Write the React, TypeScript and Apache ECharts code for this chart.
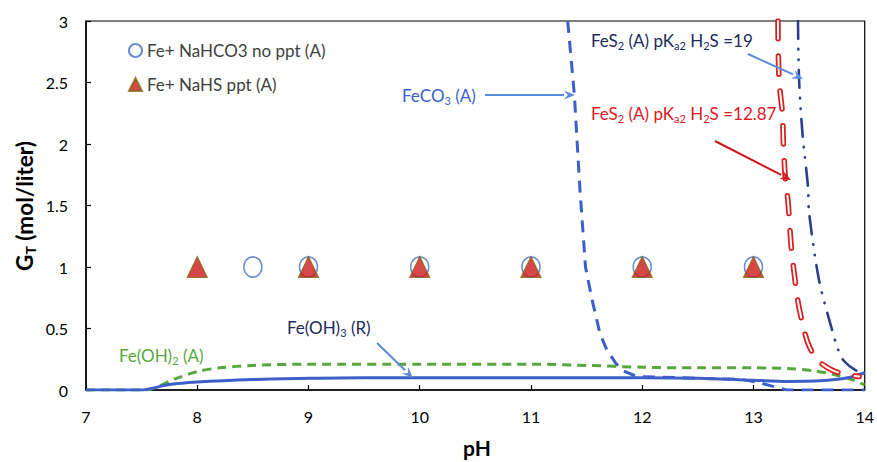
import React, { useEffect, useRef } from "react";
import * as echarts from "echarts";

const FONT = "Lato, 'Liberation Sans', sans-serif";

// Scatter experiment points
const circlePH = [8.5, 9, 10, 11, 12, 13];
const circleGT = [1, 1, 1, 1, 1, 1];
const trianglePH = [8, 9, 10, 11, 12, 13];
const triangleGT = [1, 1, 1, 1, 1, 1];

// Fe(OH)3 (R) solid
const feoh3PH = [7, 7.5, 7.6, 7.75, 8, 8.5, 9, 9.5, 10, 11, 12, 12.5, 13, 13.3, 13.6, 13.85, 14];
const feoh3GT = [0, 0, 0.015, 0.045, 0.065, 0.085, 0.095, 0.1, 0.1, 0.1, 0.1, 0.095, 0.08, 0.07, 0.075, 0.1, 0.14];

// Fe(OH)2 (A) green dashed
const feoh2PH = [7, 7.55, 7.65, 7.8, 8, 8.2, 8.5, 9, 10, 11, 11.5, 12, 12.5, 13, 13.3, 13.55, 13.75, 13.9, 14];
const feoh2GT = [0, 0, 0.03, 0.09, 0.15, 0.18, 0.2, 0.21, 0.21, 0.21, 0.2, 0.185, 0.18, 0.18, 0.175, 0.155, 0.12, 0.08, 0.04];

// FeCO3 (A) blue dashed
const feco3PH = [11.33, 11.36, 11.39, 11.44, 11.49, 11.55, 11.62, 11.68, 11.76, 11.82, 11.95, 12.5, 12.9, 13.05, 13.3, 14];
const feco3GT = [3.0, 2.7, 2.4, 1.63, 1.0, 0.73, 0.46, 0.33, 0.22, 0.16, 0.11, 0.095, 0.085, 0.06, 0, 0];

// FeS2 (A) pKa2 = 12.87, red hollow dashes
const fes2aPH = [13.22, 13.23, 13.26, 13.27, 13.29, 13.31, 13.34, 13.37, 13.41, 13.49, 13.58, 13.71, 13.86, 13.95];
const fes2aGT = [3.0, 2.52, 2.25, 1.98, 1.68, 1.54, 1.16, 0.92, 0.67, 0.38, 0.24, 0.16, 0.12, 0.11];

// FeS2 (A) pKa2 = 19, navy dash-dot-dot
const fes2bPH = [13.4, 13.41, 13.44, 13.49, 13.5, 13.59, 13.7, 13.76, 13.81, 13.92, 14];
const fes2bGT = [3.0, 2.52, 2.09, 1.65, 1.44, 0.89, 0.51, 0.33, 0.24, 0.16, 0.14];

const zip = (xs: number[], ys: number[]) => xs.map((x, i) => [x, ys[i]]);

function arrow(x1: number, y1: number, x2: number, y2: number, color: string) {
  const ang = Math.atan2(y2 - y1, x2 - x1);
  const L = 11;
  const W = 4.5;
  const bx = x2 - L * Math.cos(ang);
  const by = y2 - L * Math.sin(ang);
  const px = -Math.sin(ang) * W;
  const py = Math.cos(ang) * W;
  return [
    { type: "line", shape: { x1, y1, x2: bx, y2: by }, style: { stroke: color, lineWidth: 2 }, z: 100 },
    {
      type: "polygon",
      shape: { points: [[x2, y2], [bx + px, by + py], [bx + 0.35 * L * Math.cos(ang), by + 0.35 * L * Math.sin(ang)], [bx - px, by - py]] },
      style: { fill: color },
      z: 100,
    },
  ];
}

function label(x: number, y: number, text: string, color: string, size = 17) {
  return {
    type: "text",
    x,
    y,
    z: 100,
    style: {
      text,
      fill: color,
      fontSize: size,
      fontFamily: FONT,
      align: "left",
      verticalAlign: "middle",
      rich: {
        s: { fontSize: 11, fontFamily: FONT, fill: color, padding: [10, 0, 0, 0] },
      },
    },
  };
}

export default function App() {
  const ref = useRef<HTMLDivElement>(null);
  useEffect(() => {
    if (!ref.current) return;
    const chart = echarts.init(ref.current, null, { renderer: "svg" });
    const lightBlue = "#5B8CDA";
    const option: any = {
      animation: false,
      backgroundColor: "#fff",
      grid: { left: 86, right: 8, top: 21, bottom: 72, show: true, borderColor: "#000", borderWidth: 1.2 },
      xAxis: {
        type: "value",
        min: 7,
        max: 14,
        interval: 1,
        axisLine: { show: true, lineStyle: { color: "#000", width: 1.5 } },
        axisTick: { show: true, inside: true, length: 5, lineStyle: { color: "#000", width: 1.2 } },
        axisLabel: { color: "#000", fontSize: 16, fontFamily: FONT, margin: 18 },
        splitLine: { show: false },
      },
      yAxis: {
        type: "value",
        min: 0,
        max: 3,
        interval: 0.5,
        axisLine: { show: true, lineStyle: { color: "#000", width: 1.5 } },
        axisTick: { show: true, inside: true, length: 5, lineStyle: { color: "#000", width: 1.2 } },
        axisLabel: { color: "#000", fontSize: 16, fontFamily: FONT, margin: 18 },
        splitLine: { show: false },
      },
      legend: {
        orient: "vertical",
        left: 123,
        top: 37,
        itemGap: 17,
        itemWidth: 13,
        itemHeight: 13,
        textStyle: { color: "#404040", fontSize: 17, fontFamily: FONT },
        data: ["Fe+ NaHCO3 no ppt (A)", "Fe+ NaHS ppt (A)"],
      },
      series: [
        {
          name: "FeCO3 (A)",
          type: "line",
          showSymbol: false,
          data: zip(feco3PH, feco3GT),
          lineStyle: { color: "#3B5FCD", width: 3, type: [12, 8] },
          z: 3,
        },
        {
          name: "Fe(OH)2 (A)",
          type: "line",
          showSymbol: false,
          smooth: 0.3,
          data: zip(feoh2PH, feoh2GT),
          lineStyle: { color: "#56A83C", width: 3, type: [9, 6] },
          z: 4,
        },
        {
          name: "Fe(OH)3 (R)",
          type: "line",
          showSymbol: false,
          smooth: 0.3,
          data: zip(feoh3PH, feoh3GT),
          lineStyle: { color: "#3E5FC8", width: 3 },
          z: 5,
        },
        {
          name: "FeS2 12.87 outer",
          type: "line",
          showSymbol: false,
          smooth: 0.3,
          data: zip(fes2aPH, fes2aGT),
          lineStyle: { color: "#D81E1E", width: 5.5, type: [18, 17], cap: "round" },
          z: 6,
        },
        {
          name: "FeS2 12.87 inner",
          type: "line",
          showSymbol: false,
          smooth: 0.3,
          data: zip(fes2aPH, fes2aGT),
          lineStyle: { color: "#FFFFFF", width: 2, type: [18, 17], cap: "round" },
          z: 7,
        },
        {
          name: "FeS2 19",
          type: "line",
          showSymbol: false,
          smooth: 0.3,
          data: zip(fes2bPH, fes2bGT),
          lineStyle: { color: "#2A3F8F", width: 2.6, type: [18, 10, 0.5, 10, 0.5, 10], cap: "round" },
          z: 8,
        },
        {
          name: "Fe+ NaHCO3 no ppt (A)",
          type: "scatter",
          symbol: "circle",
          symbolSize: [18, 20],
          data: zip(circlePH, circleGT),
          itemStyle: { color: "rgba(255,255,255,0)", borderColor: "#4472C4", borderWidth: 1.6 },
          z: 9,
        },
        {
          name: "Fe+ NaHS ppt (A)",
          type: "scatter",
          symbol: "triangle",
          symbolSize: [20, 21],
          data: zip(trianglePH, triangleGT),
          itemStyle: { color: "#CC1A1A", borderColor: "#7F6A10", borderWidth: 1.2 },
          z: 10,
        },
      ],
      graphic: [
        label(402, 95, "FeCO{s|3} (A)", "#3B5FCD"),
        ...arrow(485, 95, 575, 95, lightBlue),
        label(591, 40, "FeS{s|2} (A) pK{s|a2} H{s|2}S =19", "#1B2A5E"),
        ...arrow(748, 54, 803, 79, lightBlue),
        label(591, 113, "FeS{s|2} (A) pK{s|a2} H{s|2}S =12.87", "#E0191F"),
        ...arrow(715, 141, 791, 180, "#D0181C"),
        label(287, 327, "Fe(OH){s|3} (R)", "#1B2A5E"),
        ...arrow(377, 343, 413, 378, lightBlue),
        label(119, 355, "Fe(OH){s|2} (A)", "#56A83C"),
        {
          type: "text",
          x: 24,
          y: 206,
          rotation: Math.PI / 2,
          style: {
            text: "G{s|T} (mol/liter)",
            fill: "#000",
            fontSize: 22.5,
            fontWeight: "bold",
            fontFamily: FONT,
            align: "center",
            verticalAlign: "middle",
            rich: { s: { fontSize: 14, fontWeight: "bold", fontFamily: FONT, fill: "#000", padding: [12, 0, 0, 0] } },
          },
        },
        {
          type: "text",
          x: 477,
          y: 447,
          style: {
            text: "pH",
            fill: "#000",
            fontSize: 21,
            fontWeight: "bold",
            fontFamily: FONT,
            align: "center",
            verticalAlign: "middle",
          },
        },
      ],
    };
    chart.setOption(option);
    return () => chart.dispose();
  }, []);
  return <div ref={ref} style={{ position: "absolute", left: 0, top: 0, width: 877, height: 462 }} />;
}
